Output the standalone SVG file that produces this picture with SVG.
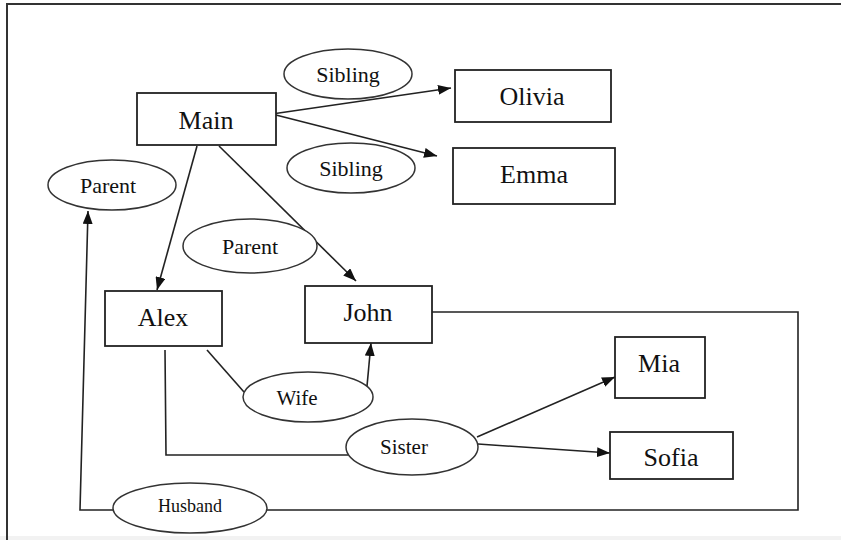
<svg xmlns="http://www.w3.org/2000/svg" width="841" height="540" viewBox="0 0 841 540">
  <style>
    .box { fill: #fff; stroke: #222; stroke-width: 1.8; }
    .ell { fill: #fff; stroke: #333; stroke-width: 1.5; }
    .line { fill: none; stroke: #222; stroke-width: 1.6; }
    text { font-family: "Liberation Serif", "Times New Roman", serif; fill: #111; text-anchor: middle; }
    .big { font-size: 26px; }
    .small { font-size: 22px; }
  </style>
  <defs>
    <marker id="arrow" viewBox="0 0 13 10" refX="13" refY="5" markerWidth="13" markerHeight="10" markerUnits="userSpaceOnUse" orient="auto">
      <path d="M0,0 L13,5 L0,10 Z" fill="#111"/>
    </marker>
  </defs>
  <rect width="841" height="540" fill="#fff"/>
  <rect x="0" y="536" width="841" height="4" fill="#f2f2f2"/>
  <g id="frame">
    <path d="M7,540 V4 H841" fill="none" stroke="#333" stroke-width="2"/>
  </g>

  <g id="connectors">
    <line class="line" x1="272" y1="114" x2="451" y2="88" marker-end="url(#arrow)"/>
    <line class="line" x1="272" y1="114" x2="437" y2="156" marker-end="url(#arrow)"/>
    <line class="line" x1="197" y1="146" x2="157" y2="290" marker-end="url(#arrow)"/>
    <line class="line" x1="219" y1="146" x2="356" y2="281" marker-end="url(#arrow)"/>
    <line class="line" x1="207" y1="350" x2="244" y2="392"/>
    <line class="line" x1="367" y1="386" x2="371" y2="343" marker-end="url(#arrow)"/>
    <polyline class="line" points="165,350 166,455 348,455"/>
    <line class="line" x1="477" y1="437" x2="615" y2="377" marker-end="url(#arrow)"/>
    <line class="line" x1="478" y1="444" x2="610" y2="453" marker-end="url(#arrow)"/>
    <polyline class="line" points="432,312 798,312 798,510 267,510"/>
    <polyline class="line" points="113,510 80,510 88,211" marker-end="url(#arrow)"/>
  </g>

  <g id="node-main">
    <rect class="box" x="137" y="93" width="139" height="52"/>
    <text class="big" x="206" y="129">Main</text>
  </g>
  <g id="node-olivia">
    <rect class="box" x="455" y="70" width="156" height="52"/>
    <text class="big" x="532" y="105">Olivia</text>
  </g>
  <g id="node-emma">
    <rect class="box" x="453" y="148" width="162" height="56"/>
    <text class="big" x="534" y="183">Emma</text>
  </g>
  <g id="node-alex">
    <rect class="box" x="105" y="291" width="117" height="55"/>
    <text class="big" x="163" y="326">Alex</text>
  </g>
  <g id="node-john">
    <rect class="box" x="305" y="286" width="127" height="57"/>
    <text class="big" x="368" y="321">John</text>
  </g>
  <g id="node-mia">
    <rect class="box" x="615" y="337" width="90" height="61"/>
    <text class="big" x="659" y="372">Mia</text>
  </g>
  <g id="node-sofia">
    <rect class="box" x="610" y="432" width="123" height="47"/>
    <text class="big" x="671" y="466">Sofia</text>
  </g>

  <g id="label-sibling1">
    <ellipse class="ell" cx="348" cy="74" rx="64" ry="25"/>
    <text class="small" x="348" y="82">Sibling</text>
  </g>
  <g id="label-sibling2">
    <ellipse class="ell" cx="351" cy="168" rx="64" ry="25"/>
    <text class="small" x="351" y="176">Sibling</text>
  </g>
  <g id="label-parent1">
    <ellipse class="ell" cx="112" cy="185" rx="64" ry="25"/>
    <text class="small" x="108" y="193">Parent</text>
  </g>
  <g id="label-parent2">
    <ellipse class="ell" cx="250" cy="246" rx="67" ry="27"/>
    <text class="small" x="250" y="254">Parent</text>
  </g>
  <g id="label-wife">
    <ellipse class="ell" cx="308" cy="397" rx="65" ry="25"/>
    <text class="small" x="297" y="405" style="font-size:21px">Wife</text>
  </g>
  <g id="label-sister">
    <ellipse class="ell" cx="412" cy="447" rx="66" ry="28"/>
    <text class="small" x="404" y="454" style="font-size:21px">Sister</text>
  </g>
  <g id="label-husband">
    <ellipse class="ell" cx="190" cy="508" rx="77" ry="25"/>
    <text class="small" x="190" y="512" style="font-size:18px">Husband</text>
  </g>
</svg>
